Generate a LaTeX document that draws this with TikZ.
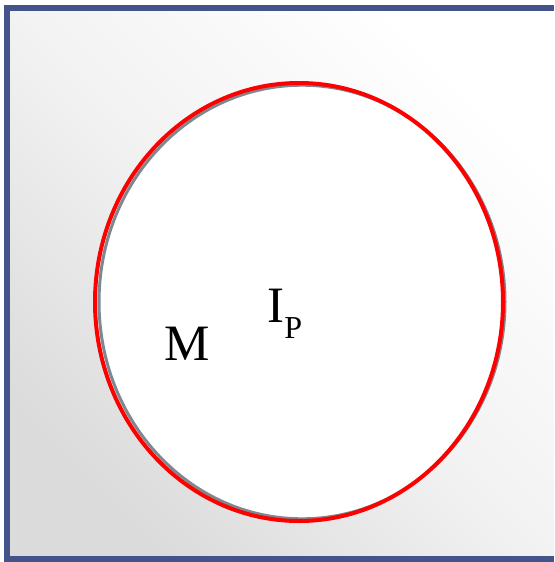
\documentclass[tikz,border=0pt]{standalone}
\usepackage{fontspec}
\setmainfont{Liberation Serif}
\definecolor{framecol}{HTML}{44548A}
\definecolor{rimgray}{HTML}{7E8890}
\begin{document}
\begin{tikzpicture}[
    x=0.5pt, y=-0.5pt,
    frame/.style={
        draw=framecol,
        line width=3pt
    },
    rim/.style={draw=red, line width=2pt},
    shadowrim/.style={draw=rimgray, line width=1.5pt},
    letter/.style={
        inner sep=0pt,
        font=\fontsize{25.5}{30}\selectfont
    }
]
\useasboundingbox (0,0) rectangle (554,562);

\shade[top color=white, bottom color=black!14, middle color=black!5, shading angle=-45]
    (7,8) rectangle (554,559);
\draw[frame] (554,8) -- (7,8) -- (7,559) -- (554,559);

\fill[white] (299,302) ellipse [x radius=102pt, y radius=109.5pt];
\draw[shadowrim] (302,302) ellipse [x radius=101.5pt, y radius=108.4pt];
\draw[rim] (299,302) ellipse [x radius=102pt, y radius=109.5pt];

\node[letter, anchor=base west] (m) at (164,360) {M};
\node[letter, anchor=base west] (ip) at (267,322)
    {I{\fontsize{16}{18}\selectfont\raisebox{-8pt}{P}}};

\end{tikzpicture}
\end{document}
